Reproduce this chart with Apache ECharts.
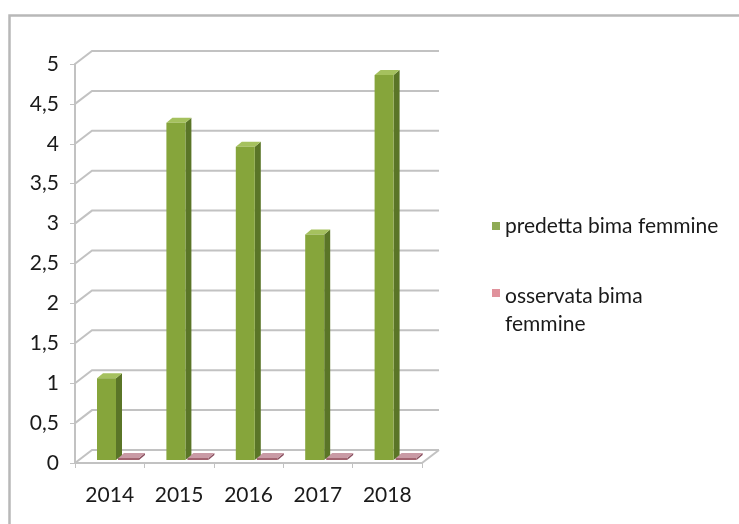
<!DOCTYPE html>
<html>
<head>
<meta charset="utf-8">
<script src="https://cdn.jsdelivr.net/npm/echarts@6/dist/echarts.min.js"></script>
<style>
html,body{margin:0;padding:0;background:#fff;}
#chart{width:739px;height:524px;}
</style>
</head>
<body>
<div id="chart"></div>
<script>
const categories = ['2014', '2015', '2016', '2017', '2018'];
const seriesNames = ['predetta bima femmine', 'osservata bima femmine'];
const predetta = [1.0, 4.2, 3.9, 2.8, 4.8];
const osservata = [0, 0, 0, 0, 0];
const yTicks = [0, 0.5, 1, 1.5, 2, 2.5, 3, 3.5, 4, 4.5, 5];

const DX = 17, DY = -13;
const FONT = 'Lato';
const TXT = '#1a1a1a';

const chart = echarts.init(document.getElementById('chart'), null, {renderer: 'canvas'});

function wallItem(params, api) {
  const v = api.value(1);
  const y = api.coord([0, v])[1];
  const cs = params.coordSys;
  const x0 = cs.x, w = cs.width;
  const st = {stroke: '#c2c2c2', lineWidth: 2, fill: null};
  const children = [
    {type: 'polyline', shape: {points: [[x0, y], [x0 + DX, y + DY], [x0 + w + DX, y + DY]]}, style: st}
  ];
  if (v === 0) {
    children.push({type: 'line', shape: {x1: x0 + w, y1: y, x2: x0 + w + DX, y2: y + DY}, style: st});
  }
  return {type: 'group', children: children};
}

function barMaker(offset, width, colors) {
  return function (params, api) {
    const i = api.value(0), v = api.value(1);
    const c = api.coord([i, v]);
    const base = api.coord([i, 0]);
    const bw = api.size([1, 0])[0];
    const xl = c[0] - bw / 2 + offset;
    const w = width, d = 6, dh = 5;
    const xr = xl + w;
    const top = c[1] - 5;
    const bottom = base[1] - 3;
    return {
      type: 'group',
      children: [
        {type: 'polygon', shape: {points: [[xr, top], [xr + d, top - dh], [xr + d, bottom - dh], [xr, bottom]]}, style: {fill: colors.side}},
        {type: 'polygon', shape: {points: [[xl, top], [xl + d, top - dh], [xr + d, top - dh], [xr, top]]}, style: {fill: colors.top}},
        {type: 'rect', shape: {x: xl, y: top, width: w, height: Math.max(bottom - top, 1)}, style: {fill: colors.front}}
      ]
    };
  };
}

const option = {
  backgroundColor: '#ffffff',
  animation: false,
  graphic: [
    {type: 'rect', left: 7, top: 13, shape: {x: 0, y: 0, width: 740, height: 520}, style: {fill: null, stroke: '#b8b8b8', lineWidth: 2.5}, z: -10}
  ],
  grid: {left: 75, top: 64, width: 347, height: 399},
  legend: [
    {
      left: 487, top: 207, data: [seriesNames[0]], icon: 'rect', itemWidth: 8, itemHeight: 8,
      textStyle: {fontFamily: FONT, fontSize: 21, color: TXT, lineHeight: 28}
    },
    {
      left: 487, top: 277, data: [seriesNames[1]], itemWidth: 8, itemHeight: 56,
      icon: 'path://M0,0h0.01v0.01h-0.01z M0,7h8v8h-8z M0,56h0.01v0.01h-0.01z',
      formatter: function () { return 'osservata bima\nfemmine'; },
      textStyle: {fontFamily: FONT, fontSize: 21, color: TXT, lineHeight: 28}
    }
  ],
  xAxis: {
    type: 'category',
    data: categories,
    boundaryGap: true,
    axisLine: {show: true, lineStyle: {color: '#c2c2c2', width: 2}},
    axisTick: {show: true, interval: 0, length: 5, lineStyle: {color: '#c2c2c2'}},
    axisLabel: {fontFamily: FONT, fontSize: 21, color: TXT, margin: 22, interval: 0},
    splitLine: {show: false}
  },
  yAxis: {
    type: 'value',
    min: 0, max: 5, interval: 0.5,
    axisLine: {show: true, lineStyle: {color: '#c2c2c2', width: 2}},
    axisTick: {show: true, length: 5, lineStyle: {color: '#c2c2c2'}},
    axisLabel: {
      fontFamily: FONT, fontSize: 21, color: TXT, margin: 16,
      formatter: function (v) { return String(v).replace('.', ','); }
    },
    splitLine: {show: false}
  },
  series: [
    {
      type: 'custom', name: '_wall', silent: true, clip: false, z: 1,
      renderItem: wallItem,
      data: yTicks.map(function (v) { return [0, v]; })
    },
    {
      type: 'custom', name: seriesNames[0], clip: false, z: 3,
      itemStyle: {color: '#8fab55'},
      renderItem: barMaker(22, 19, {front: '#86a53b', side: '#5a7527', top: '#a5c15e'}),
      data: predetta.map(function (v, i) { return [i, v]; })
    },
    {
      type: 'custom', name: seriesNames[1], clip: false, z: 2,
      itemStyle: {color: '#e0929c'},
      renderItem: barMaker(43, 21, {front: '#a26470', side: '#8a5060', top: '#c99aa5'}),
      data: osservata.map(function (v, i) { return [i, v]; })
    }
  ]
};
chart.setOption(option);
</script>
</body>
</html>
